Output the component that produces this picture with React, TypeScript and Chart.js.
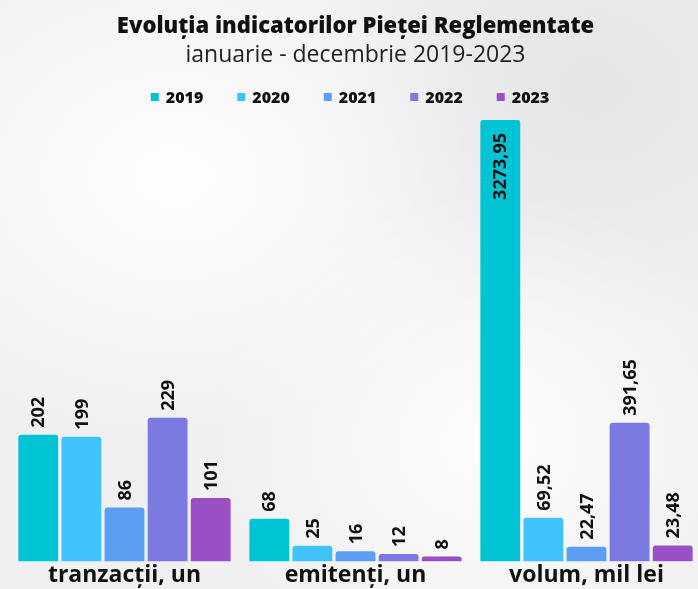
import React, { useEffect, useRef } from "react";
import { Chart, registerables } from "chart.js";

Chart.register(...registerables);

const categories = ["tranzacții, un", "emitenți, un", "volum, mil lei"];
const years = ["2019", "2020", "2021", "2022", "2023"];
const colors = ["#00c4d4", "#40c2fa", "#5c9ef4", "#7a7ae0", "#9a4fc6"];

// values per year: [tranzacții, emitenți, volum]
const tranzactii = [202, 199, 86, 229, 101];
const emitenti = [68, 25, 16, 12, 8];
const volum = [3273.95, 69.52, 22.47, 391.65, 23.48];
// bar lengths of the "volum" group as drawn in the reference (compressed scale)
const volumBarHeights = [704, 69.5, 23.5, 221, 25.5];

const yMax = 704;
const FONT = "'Open Sans', sans-serif";

const fmt = (v: number) => String(v).replace(".", ",");

const labelPlugin = {
  id: "barLabels",
  afterDatasetsDraw(chart: any) {
    const ctx = chart.ctx;
    const top = chart.chartArea.top;
    chart.data.datasets.forEach((ds: any, di: number) => {
      const meta = chart.getDatasetMeta(di);
      meta.data.forEach((bar: any, i: number) => {
        const text = ds.labelsText[i];
        ctx.save();
        ctx.font = `bold 18px ${FONT}`;
        ctx.fillStyle = "#111";
        ctx.textBaseline = "middle";
        const w = ctx.measureText(text).width;
        ctx.translate(bar.x, 0);
        ctx.rotate(-Math.PI / 2);
        if (bar.y - 7 - w < top - 5) {
          ctx.textAlign = "right";
          ctx.fillText(text, -(bar.y + 13), 1);
        } else {
          ctx.textAlign = "left";
          ctx.fillText(text, -(bar.y - 7), 1);
        }
        ctx.restore();
      });
    });
  },
};

const legendPlugin = {
  id: "customLegend",
  afterDraw(chart: any) {
    const ctx = chart.ctx;
    const centerX = 350;
    const y = 97;
    const box = 8;
    const gapBox = 7;
    const gapItem = 34;
    ctx.save();
    ctx.font = `800 16px ${FONT}`;
    ctx.textBaseline = "middle";
    ctx.textAlign = "left";
    const widths = chart.data.datasets.map(
      (ds: any) => box + gapBox + ctx.measureText(ds.label).width
    );
    const total =
      widths.reduce((a: number, b: number) => a + b, 0) +
      gapItem * (widths.length - 1);
    let x = centerX - total / 2;
    chart.data.datasets.forEach((ds: any, i: number) => {
      ctx.fillStyle = ds.backgroundColor;
      ctx.fillRect(x, y - box / 2, box, box);
      ctx.fillStyle = "#111";
      ctx.fillText(ds.label, x + box + gapBox, y + 1);
      x += widths[i] + gapItem;
    });
    ctx.restore();
  },
};

export default function App() {
  const ref = useRef<HTMLCanvasElement | null>(null);
  useEffect(() => {
    document.body.style.margin = "0";
    document.body.style.overflow = "hidden";
    const datasets = years.map((y, i) => ({
      label: y,
      data: [tranzactii[i], emitenti[i], volumBarHeights[i]],
      labelsText: [fmt(tranzactii[i]), fmt(emitenti[i]), fmt(volum[i])],
      backgroundColor: colors[i],
      borderRadius: 3,
      borderSkipped: "bottom",
      categoryPercentage: 0.933,
      barPercentage: 0.925,
    }));
    const chart = new Chart(ref.current as HTMLCanvasElement, {
      type: "bar",
      data: { labels: categories, datasets: datasets as any },
      options: {
        animation: false,
        responsive: false,
        maintainAspectRatio: false,
        layout: { padding: { left: 9, right: 0, top: 0, bottom: 0 } },
        plugins: {
          title: {
            display: true,
            text: "Evoluția indicatorilor Pieței Reglementate",
            color: "#111",
            font: { family: FONT, size: 22, weight: "800" },
            padding: { top: 14, bottom: 0 },
          },
          subtitle: {
            display: true,
            text: "ianuarie - decembrie 2019-2023",
            color: "#222",
            font: { family: FONT, size: 23, weight: "normal" },
            padding: { top: 1, bottom: 51 },
          },
          legend: { display: false },
          tooltip: { enabled: false },
        },
        scales: {
          x: {
            grid: { display: false, drawTicks: false },
            border: { display: false },
            ticks: {
              color: "#111",
              padding: 0,
              font: { family: FONT, size: 23, weight: "bold" },
            },
          },
          y: { display: false, min: 0, max: yMax },
        },
      },
      plugins: [labelPlugin, legendPlugin],
    });
    return () => chart.destroy();
  }, []);
  return (
    <div
      style={{
        width: 698,
        height: 589,
        overflow: "hidden",
        background:
          "radial-gradient(ellipse at 25% 30%, rgba(255,255,255,0.95) 0%, rgba(255,255,255,0) 45%), radial-gradient(ellipse at 70% 75%, rgba(255,255,255,0.85) 0%, rgba(255,255,255,0) 40%), radial-gradient(ellipse at 85% 15%, rgba(228,228,231,0.9) 0%, rgba(228,228,231,0) 35%), #f0f0f2",
      }}
    >
      <canvas ref={ref} width={702} height={589} style={{ display: "block" }} />
    </div>
  );
}
